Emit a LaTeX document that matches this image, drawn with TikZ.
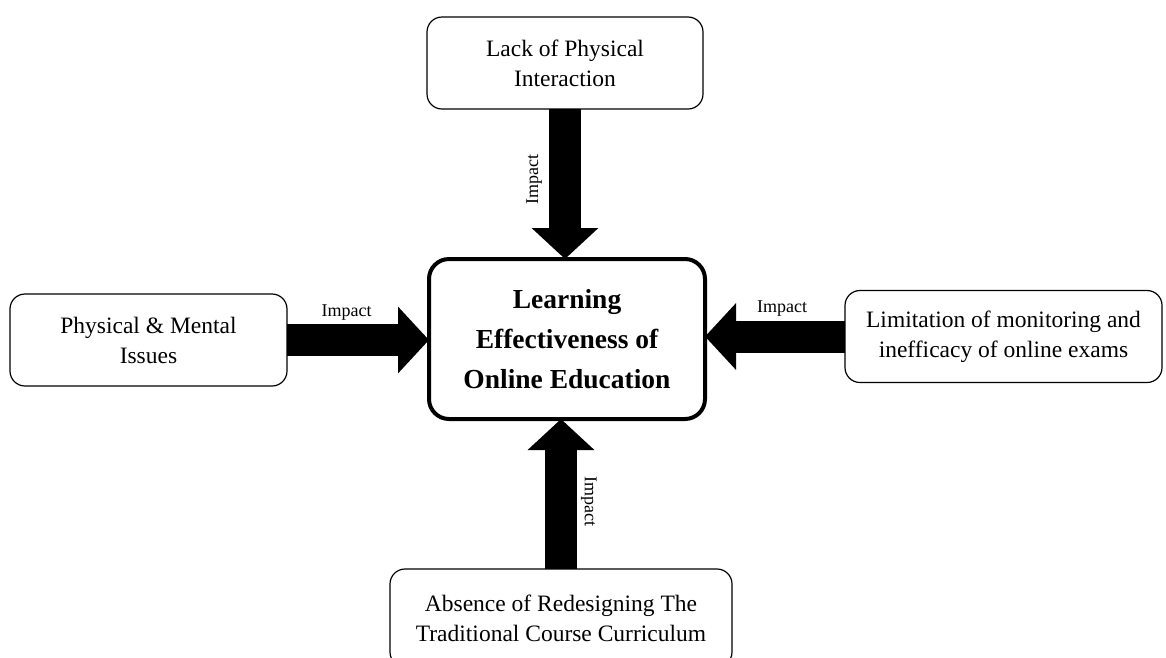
\documentclass[tikz,border=0pt]{standalone}
\usepackage{fontspec}
\setmainfont{Liberation Serif}
\usetikzlibrary{arrows.meta,positioning}

\begin{document}
\begin{tikzpicture} [
		hub/.style    = { rectangle, draw=black, line width=4pt, rounded corners=20pt,
			minimum width=276pt, minimum height=160pt, inner sep=0pt, outer sep=0pt,
			align=center, font=\fontsize{27.5}{40}\selectfont\bfseries },
		cause/.style  = { rectangle, draw=black, line width=1.2pt, rounded corners=15pt,
			minimum height=92pt, inner sep=0pt, outer sep=0pt,
			align=center, font=\fontsize{23.5}{30}\selectfont },
		impact/.style = { draw, line width=32pt, -{Triangle[width=65pt,length=31pt]} },
		tag/.style    = { inner sep=0pt, outer sep=0pt, font=\fontsize{18}{20}\selectfont },
	]
	\useasboundingbox (0,0) rectangle (1166pt,-657pt);
	% Define nodes around the hub
	\begin{scope}
		\node [hub] (hub) at (567pt,-339pt) {Learning\\Effectiveness of\\Online Education};
		\node [cause, minimum width=276pt, above=150pt of hub, xshift=-2pt] (contact) {Lack of Physical\\Interaction};
		\node [cause, minimum width=277pt, left=142pt of hub, yshift=-1pt] (health) {Physical \& Mental\\Issues};
		\node [cause, minimum width=317pt, right=140pt of hub, yshift=2.5pt] (exams) {Limitation of monitoring and\\inefficacy of online exams};
		\node [cause, minimum width=342pt, minimum height=98pt, below=150pt of hub, xshift=-6pt] (redesign) {Absence of Redesigning The\\Traditional Course Curriculum};
	\end{scope}
	% connect all causes to the hub
	\begin{scope}
		\draw [impact] (contact.south) -- (contact.south |- hub.north)
			node [tag, pos=.47, xshift=-23pt, rotate=90, anchor=south] {Impact};
		\draw [impact] (health.east) -- (health.east -| hub.west)
			node [tag, pos=.42, anchor=south, yshift=20pt] {Impact};
		\draw [impact] (exams.west) -- (exams.west -| hub.east)
			node [tag, pos=.45, anchor=south, yshift=20pt] {Impact};
		\draw [impact] (redesign.north) -- (redesign.north |- hub.south)
			node [tag, pos=.45, xshift=20pt, rotate=-90, anchor=south] {Impact};
	\end{scope}
\end{tikzpicture}
\end{document}
